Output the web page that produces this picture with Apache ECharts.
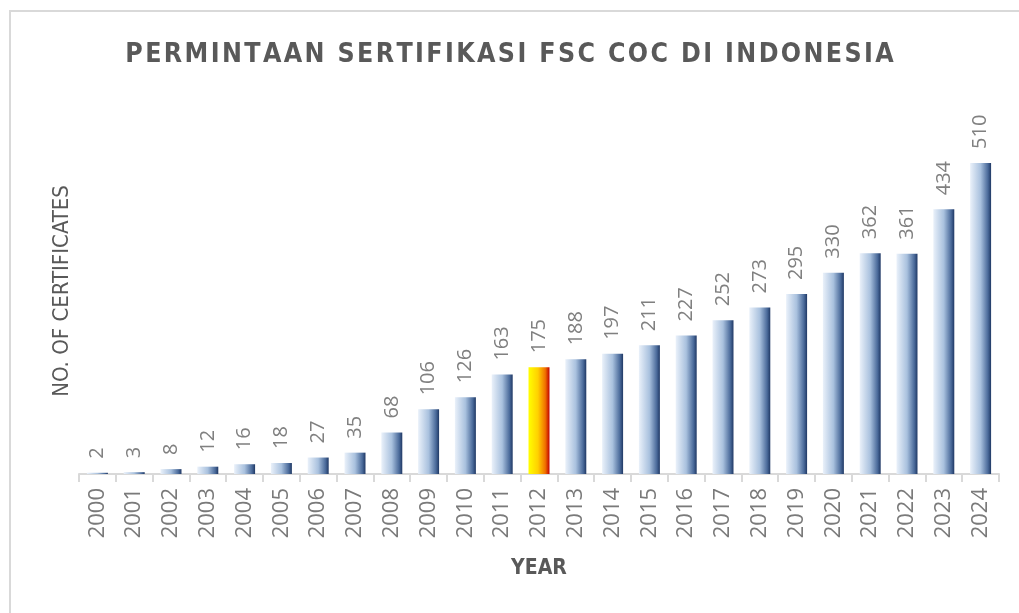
<!DOCTYPE html>
<html>
<head>
<meta charset="utf-8">
<script src="https://cdn.jsdelivr.net/npm/echarts@6/dist/echarts.min.js"></script>
<style>
  html, body { margin: 0; padding: 0; background: #fff; }
  #chart { width: 1019px; height: 613px; }
</style>
</head>
<body>
<div id="chart"></div>
<script>
// data
var years = ['2000', '2001', '2002', '2003', '2004', '2005', '2006', '2007', '2008', '2009',
  '2010', '2011', '2012', '2013', '2014', '2015', '2016', '2017', '2018', '2019',
  '2020', '2021', '2022', '2023', '2024']
var certificates = [2, 3, 8, 12, 16, 18, 27, 35, 68, 106,
  126, 163, 175, 188, 197, 211, 227, 252, 273, 295,
  330, 362, 361, 434, 510]
var highlightYear = '2012'
var titleText = 'PERMINTAAN SERTIFIKASI FSC COC DI INDONESIA'

var textGray = '#595959'
var condensed = 'DejaVu Sans Condensed'

// spread the title letters a bit (hair spaces)
var spacedTitle = titleText.split('').join('\u200A')

// gradients
var blueGrad = new echarts.graphic.LinearGradient(0, 0, 1, 0, [
  { offset: 0, color: '#eaf1fa' },
  { offset: 0.5, color: '#a9c1de' },
  { offset: 0.85, color: '#4a6a9a' },
  { offset: 1, color: '#1f3864' }
])
var redGrad = new echarts.graphic.LinearGradient(0, 0, 1, 0, [
  { offset: 0, color: '#ffff00' },
  { offset: 0.45, color: '#ffd000' },
  { offset: 0.8, color: '#f07000' },
  { offset: 1, color: '#c00000' }
])

var barData = certificates.map(function (v, i) {
  return {
    value: v,
    itemStyle: { color: years[i] === highlightYear ? redGrad : blueGrad }
  }
})

var chart = echarts.init(document.getElementById('chart'))
var option = {
  backgroundColor: '#fff',
  animation: false,
  title: {
    text: spacedTitle,
    left: 'center',
    top: 37,
    textStyle: {
      fontFamily: condensed,
      fontWeight: 'bold',
      fontSize: 26.5,
      color: textGray
    }
  },
  graphic: [{
    type: 'rect',
    shape: { x: 10, y: 11, width: 1100, height: 700 },
    style: { fill: 'none', stroke: '#d9d9d9', lineWidth: 2 },
    silent: true
  }],
  grid: {
    left: 79,
    right: 20,
    top: 108,
    bottom: 139
  },
  xAxis: {
    type: 'category',
    data: years,
    name: 'YEAR',
    nameLocation: 'middle',
    nameGap: 84,
    nameTextStyle: {
      fontFamily: condensed,
      fontWeight: 'bold',
      fontSize: 21,
      color: textGray
    },
    axisLine: { lineStyle: { color: '#d9d9d9', width: 2 } },
    axisTick: { show: true, length: 8, lineStyle: { color: '#d9d9d9', width: 2 } },
    axisLabel: {
      rotate: 90,
      margin: 14,
      fontFamily: 'Open Sans',
      fontSize: 22,
      color: '#7a7a7a'
    }
  },
  yAxis: {
    type: 'value',
    min: 0,
    max: 600,
    name: 'NO. OF CERTIFICATES',
    nameLocation: 'middle',
    nameGap: 6,
    nameRotate: 90,
    nameTextStyle: {
      fontFamily: condensed,
      fontSize: 22,
      color: textGray
    },
    axisLine: { show: false },
    axisTick: { show: false },
    axisLabel: { show: false },
    splitLine: { show: false }
  },
  series: [{
    type: 'bar',
    data: barData,
    barWidth: '57%',
    label: {
      show: true,
      position: 'top',
      rotate: 90,
      align: 'left',
      verticalAlign: 'middle',
      distance: 14,
      fontFamily: 'Open Sans',
      fontSize: 20,
      color: '#808080'
    }
  }]
}
chart.setOption(option)
</script>
</body>
</html>
